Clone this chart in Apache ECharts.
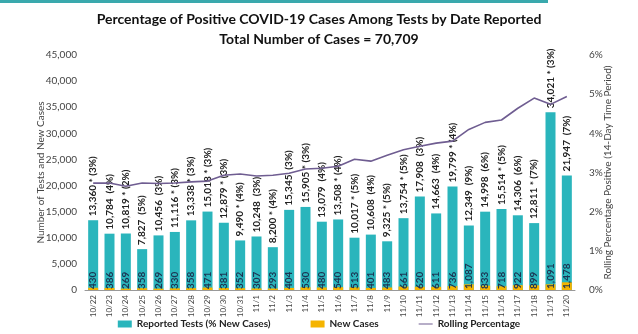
<!DOCTYPE html>
<html><head><meta charset="utf-8">
<script src="https://cdn.jsdelivr.net/npm/echarts@6/dist/echarts.min.js"></script>
<style>html,body{margin:0;padding:0;background:#fff}#c{width:638px;height:334px}</style>
</head><body><div id="c"></div>
<script>
var categories = ['10/22','10/23','10/24','10/25','10/26','10/27','10/28','10/29','10/30','10/31','11/1','11/2','11/3','11/4','11/5','11/6','11/7','11/8','11/9','11/10','11/11','11/12','11/13','11/14','11/15','11/16','11/17','11/18','11/19','11/20'];
var reportedTests = [13360,10784,10819,7827,10456,11116,13338,15018,12879,9490,10248,8200,15345,15905,13079,13508,10017,10608,9325,13754,17908,14663,19799,12349,14998,15514,14306,12811,34021,21947];
var newCases = [430,386,269,358,269,330,358,471,381,352,307,293,404,530,480,540,513,401,483,661,620,611,736,1087,833,718,922,899,1091,1478];
var pctNew = [3,4,2,5,3,3,3,3,3,4,3,4,3,3,4,4,5,4,5,5,3,4,4,9,6,5,6,7,3,7];
var starred = [1,0,1,0,0,1,1,1,1,1,0,1,0,1,0,1,1,0,1,1,0,0,1,0,0,1,0,1,1,0];
var rollingPct = [2.73,2.73,2.65,2.73,2.72,2.73,2.76,2.78,2.93,2.96,2.91,2.93,2.98,3.09,3.11,3.16,3.34,3.29,3.44,3.58,3.67,3.75,3.80,4.10,4.28,4.34,4.64,4.90,4.74,4.94];
var leftTicks = {min:0, max:45000, interval:5000};
var rightTicks = {min:0, max:6, interval:1};

var FONT = 'Lato, "Open Sans", sans-serif';
var chart = echarts.init(document.getElementById('c'));
function fmt(n){return n.toLocaleString('en-US');}
chart.setOption({
  animation:false,
  textStyle:{fontFamily:FONT},
  graphic:[{type:'rect',left:0,top:0,shape:{width:548,height:3},style:{fill:'#3aa9ad'}}],
  title:{text:'Percentage of Positive COVID-19 Cases Among Tests by Date Reported\nTotal Number of Cases = 70,709',
    left:'center', top:4,
    textStyle:{fontFamily:FONT,fontWeight:'bold',fontSize:14,lineHeight:20,color:'#111'}},
  legend:{top:314,left:'center',itemWidth:14,itemHeight:7,itemGap:40,
    textStyle:{fontFamily:FONT,fontWeight:'bold',fontSize:10,color:'#222'},
    data:[{name:'Reported Tests (% New Cases)',icon:'rect'},{name:'New Cases',icon:'rect'},
          {name:'Rolling Percentage',icon:'path://M0,0 H28 V2 H0 Z',itemStyle:{color:'#6f5d91'}}]},
  grid:{left:85,right:63,top:55,bottom:44},
  xAxis:{type:'category',data:categories,
    axisLine:{lineStyle:{color:'#999'}},axisTick:{show:false},
    axisLabel:{rotate:90,fontSize:8,color:'#444',margin:5,interval:0}},
  yAxis:[{type:'value',min:leftTicks.min,max:leftTicks.max,interval:leftTicks.interval,
    name:'Number of Tests and New Cases',nameLocation:'middle',nameGap:39,nameMoveOverlap:false,
    nameTextStyle:{fontSize:10,color:'#444'},
    axisLabel:{fontSize:10,color:'#444',formatter:function(v){return fmt(v);},margin:8},
    splitLine:{show:false},axisLine:{show:false},axisTick:{show:false}},
   {type:'value',min:rightTicks.min,max:rightTicks.max,interval:rightTicks.interval,
    name:'Rolling Percentage Positive (14-Day Time Period)',nameLocation:'middle',nameGap:28,nameRotate:90,nameMoveOverlap:false,
    nameTextStyle:{fontSize:10,color:'#444'},
    axisLabel:{fontSize:10,color:'#444',formatter:'{value}%',margin:14},
    splitLine:{show:false},axisLine:{show:false},axisTick:{show:false}}],
  series:[
   {name:'Reported Tests (% New Cases)',type:'bar',data:reportedTests,barWidth:10,
    itemStyle:{color:'#2ab5bc'},
    label:{show:true,position:'top',rotate:90,align:'left',verticalAlign:'middle',distance:4,
      fontSize:10,fontWeight:'bold',color:'#222',
      formatter:function(p){var i=p.dataIndex;return fmt(reportedTests[i])+(starred[i]?' * ':'  ')+'('+pctNew[i]+'%)';}}},
   {name:'New Cases',type:'bar',data:newCases,barWidth:10,barGap:'-100%',
    itemStyle:{color:'#f5b400'},
    label:{show:true,position:'insideBottom',rotate:90,align:'left',verticalAlign:'middle',distance:1,
      fontSize:10,fontWeight:'bold',color:'#1c3553',formatter:function(p){return fmt(p.value);}}},
   {name:'Rolling Percentage',type:'line',yAxisIndex:1,data:rollingPct,symbol:'none',
    lineStyle:{color:'#6f5d91',width:1.6},itemStyle:{color:'#6f5d91'},z:5}
  ]
});
</script></body></html>
